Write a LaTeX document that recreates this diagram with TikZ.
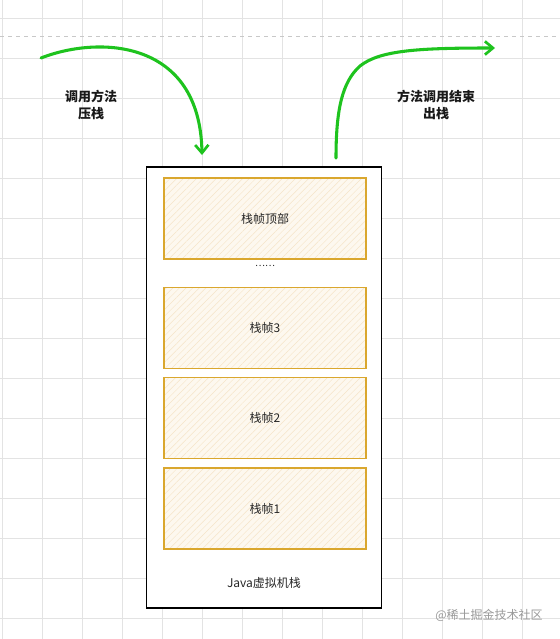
\documentclass[tikz,border=0pt]{standalone}
\usepackage{fontspec}
\newfontfamily\cjk{Noto Sans CJK SC}
\usetikzlibrary{arrows.meta,patterns.meta}
\definecolor{gridc}{HTML}{E3E3E3}
\definecolor{dashc}{HTML}{C8C8C8}
\definecolor{framefill}{HTML}{FDF8EF}
\definecolor{hatchc}{HTML}{F5E4C8}
\definecolor{framedraw}{HTML}{DAA72E}
\definecolor{arrowg}{HTML}{1EC31E}
\tikzset{
  gridline/.style={draw=gridc, line width=0.6pt},
  stackbox/.style={draw=black, line width=0.9pt, fill=white, minimum width=176.25pt, minimum height=330.75pt, inner sep=0pt},
  framebox/.style={draw=framedraw, line width=0.8pt, preaction={fill=framefill},
    pattern={Lines[angle=45,distance=3.5pt,line width=0.35pt]}, pattern color=hatchc,
    minimum width=151.5pt, minimum height=60.75pt, inner sep=0pt,
    font=\cjk\fontsize{9}{11}\selectfont, text=black!85},
  plain/.style={font=\cjk\fontsize{9}{11}\selectfont, text=black!85, inner sep=0pt},
  boldlabel/.style={font=\cjk\bfseries\fontsize{9.75}{12.75}\selectfont, align=center, text=black!90, inner sep=0pt},
  greenarrow/.style={draw=arrowg, line width=2.3pt, line cap=round,
    -{Straight Barb[length=6pt,width=10pt,line width=2pt]}},
}
\begin{document}
\begin{tikzpicture}[x=0.75pt,y=-0.75pt]
\useasboundingbox (0,0) rectangle (560,639);
\fill[white] (0,0) rectangle (560,639);
\foreach \x in {2,42,...,562} \draw[gridline] (\x,0) -- (\x,639);
\foreach \y in {18,58,...,618} \draw[gridline] (0,\y) -- (560,\y);
\draw[dashc, dashed, line width=0.6pt] (0,36) -- (560,36);

\node[stackbox] (stack) at (264,387.5) {};
\node[framebox] (top) at (265,218.5) {栈帧顶部};
\node[plain] (dots) at (265,266) {\fontsize{7}{8}\selectfont ……};
\node[framebox] (f3) at (265,328) {栈帧3};
\node[framebox] (f2) at (265,418) {栈帧2};
\node[framebox] (f1) at (265,508.5) {栈帧1};
\node[plain] (jvm) at (264,583) {Java虚拟机栈};

\coordinate (inStart) at (41,58);
\coordinate (inEnd) at (202,155);
\coordinate (outStart) at (336,158);
\coordinate (outMid) at (360,66);
\coordinate (outEnd) at (495,48);
\draw[greenarrow] (inStart) .. controls (100,35) and (200,40) .. (inEnd);
\draw[greenarrow] (outStart) .. controls (336,110) and (342,82) .. (outMid) .. controls (380,50) and (420,48) .. (outEnd);

\node[boldlabel] (pushlbl) at (91,104.5) {调用方法\\压栈};
\node[boldlabel] (poplbl) at (436,104.5) {方法调用结束\\出栈};

\node[font=\cjk\fontsize{9}{11}\selectfont, text=black!40, inner sep=0pt] (wm) at (489,615) {@稀土掘金技术社区};
\end{tikzpicture}
\end{document}
